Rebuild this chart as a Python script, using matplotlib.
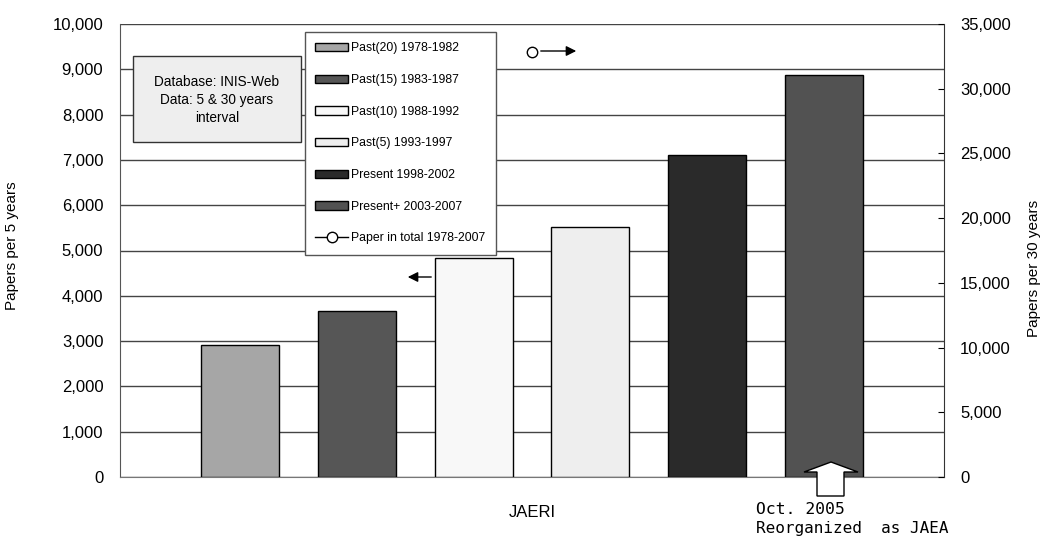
import matplotlib
matplotlib.use("Agg")
import matplotlib.pyplot as plt
from matplotlib.patches import Rectangle, Polygon, FancyArrowPatch
from matplotlib.ticker import FuncFormatter

# ---- data ----
series_labels = ["Past(20) 1978-1982", "Past(15) 1983-1987", "Past(10) 1988-1992",
                 "Past(5) 1993-1997", "Present 1998-2002", "Present+ 2003-2007"]
papers_5y = [2910, 3660, 4840, 5525, 7100, 8870]
bar_colors = ["#a6a6a6", "#565656", "#f8f8f8", "#eeeeee", "#2a2a2a", "#525252"]
total_label = "Paper in total 1978-2007"
papers_30y = [32850]
category = ["JAERI"]

W, H = 1046, 541
plt.rcParams["font.family"] = ["Liberation Sans", "DejaVu Sans"]

fig = plt.figure(figsize=(W / 100, H / 100), dpi=100)
ax = fig.add_axes([120 / W, 1 - 477 / H, (944 - 120) / W, (477 - 24) / H])

def fx(px):
    return px / W

def fy(py):
    return 1 - py / H

xs = list(range(len(papers_5y)))
handles = []
for i, (v, c, lab) in enumerate(zip(papers_5y, bar_colors, series_labels)):
    b = ax.bar(xs[i], v, width=0.668, color=c, edgecolor="black", linewidth=1.0,
               label=lab, zorder=3)
    handles.append(b)

ax.set_xlim(-1.03, 6.03)
ax.set_ylim(0, 10000)
ax.set_yticks(range(0, 10001, 1000))
ax.yaxis.set_major_formatter(FuncFormatter(lambda v, p: f"{int(v):,}"))
ax.grid(axis="y", color="#444444", linewidth=1.0, zorder=0)
ax.set_xticks([2.5])
ax.set_xticklabels(category, fontsize=12)
ax.tick_params(axis="x", length=0, pad=20)
ax.tick_params(axis="y", length=0, pad=12, labelsize=12)
for s in ["top", "right"]:
    ax.spines[s].set_visible(False)
ax.spines["left"].set_color("#555555")
ax.spines["bottom"].set_color("#777777")

ax2 = ax.twinx()
ax2.set_ylim(0, 35000)
ax2.set_yticks(range(0, 35001, 5000))
ax2.yaxis.set_major_formatter(FuncFormatter(lambda v, p: f"{int(v):,}"))
ax2.tick_params(axis="y", direction="in", length=4.3, pad=11.5, labelsize=12)
ln, = ax2.plot([2.5], papers_30y, color="black", marker="o", markersize=7.5,
               markerfacecolor="white", markeredgecolor="black", linewidth=1,
               label=total_label, zorder=5)
for s in ["top", "left", "bottom"]:
    ax2.spines[s].set_visible(False)
ax2.spines["right"].set_color("#333333")

# axis titles
fig.text(fx(12), fy(246), "Papers per 5 years", rotation=90, ha="center", va="center",
         fontsize=11)
fig.text(fx(1034), fy(268), "Papers per 30 years", rotation=90, ha="center", va="center",
         fontsize=11)

# legend
leg = fig.legend(handles=handles + [ln], labels=series_labels + [total_label],
                 loc="upper left", bbox_to_anchor=(fx(305), fy(32)),
                 bbox_transform=fig.transFigure, borderaxespad=0,
                 fontsize=8.8, frameon=True, fancybox=False, edgecolor="#555555",
                 framealpha=1, borderpad=0.85, handlelength=2.65, handleheight=0.7,
                 handletextpad=0.3, labelspacing=1.61)
leg.get_frame().set_linewidth(1.0)

# info box
fig.add_artist(Rectangle((fx(133), fy(142)), fx(301) - fx(133), fy(56) - fy(142),
                         transform=fig.transFigure, facecolor="#eeeeee",
                         edgecolor="#333333", linewidth=1.0, zorder=4))
fig.text(fx(217), fy(100), "Database: INIS-Web\nData: 5 & 30 years\ninterval",
         ha="center", va="center", fontsize=9.8, linespacing=1.4, zorder=5)

# axis-direction arrows
fig.add_artist(FancyArrowPatch(
    (fx(434), fy(277)), (fx(405), fy(277)), transform=fig.transFigure,
    arrowstyle="-|>,head_length=6,head_width=3", color="black", linewidth=1.0,
    mutation_scale=1, zorder=6))
fig.add_artist(FancyArrowPatch(
    (fx(538), fy(51)), (fx(579), fy(51)), transform=fig.transFigure,
    arrowstyle="-|>,head_length=6,head_width=3", color="black", linewidth=1.0,
    mutation_scale=1, zorder=6))

# block arrow in last bar
pts = [(831, 462), (858, 472), (844, 472), (844, 496), (817, 496), (817, 472), (804, 472)]
fig.add_artist(Polygon([(fx(x), fy(y)) for x, y in pts], closed=True,
                       transform=fig.transFigure, facecolor="white",
                       edgecolor="black", linewidth=1.0, zorder=6))

fig.text(fx(756), fy(502), "Oct. 2005", ha="left", va="top", fontsize=11.8,
         family=["DejaVu Sans Mono"])
fig.text(fx(756), fy(521), "Reorganized  as JAEA", ha="left", va="top", fontsize=11.5,
         family=["DejaVu Sans Mono"])

fig.savefig("out.png", dpi=100)
